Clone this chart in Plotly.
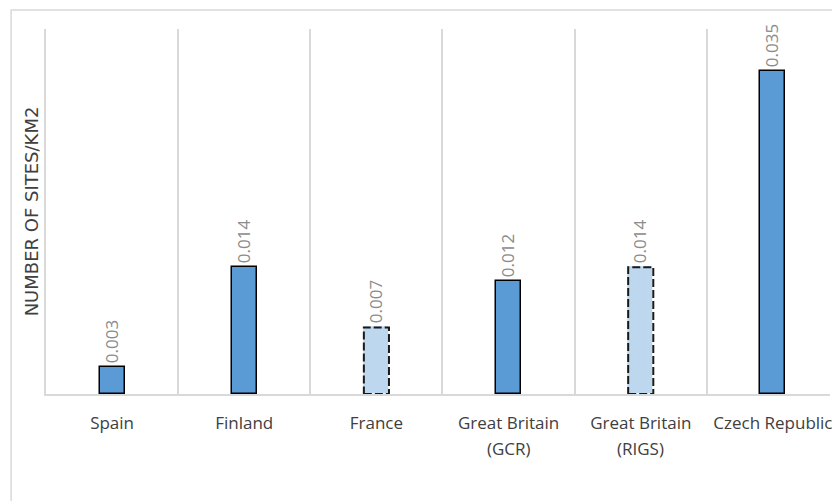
import plotly.graph_objects as go

categories = ["Spain", "Finland", "France", "Great Britain (GCR)", "Great Britain (RIGS)", "Czech Republic"]
label_line1 = ["Spain", "Finland", "France", "Great Britain", "Great Britain", "Czech Republic"]
label_line2 = ["", "", "", "(GCR)", "(RIGS)", ""]
values = [0.0030, 0.0139, 0.0073, 0.0124, 0.0139, 0.0354]
estimated = [False, False, True, False, True, False]

DARK = "#5B9BD5"
LIGHT = "#BDD7EE"
GRID = "#d9d9d9"
BAR_W = 0.19

fig = go.Figure()
fig.add_trace(go.Bar(
    x=categories, y=values,
    width=BAR_W,
    marker=dict(
        color=[LIGHT if e else DARK for e in estimated],
        line=dict(color=["rgba(0,0,0,0)" if e else "#000000" for e in estimated], width=1.5),
    ),
    texttemplate="%{y:.3f} ",
    textposition="outside",
    textangle=-90,
    constraintext="none",
    cliponaxis=False,
    textfont=dict(family="Open Sans", size=17, color="#8c8c8c"),
    hoverinfo="skip",
))

shapes = []
# dashed outlines for the estimated bars
for i, (v, e) in enumerate(zip(values, estimated)):
    if e:
        shapes.append(dict(
            type="rect", xref="x", yref="y",
            x0=i - BAR_W / 2, x1=i + BAR_W / 2, y0=0, y1=v,
            line=dict(color="#1a1a1a", width=2, dash="8px,3px"),
            fillcolor="rgba(0,0,0,0)", layer="above",
        ))
# outer chart border
shapes.append(dict(
    type="rect", xref="paper", yref="paper",
    x0=-0.0445, x1=1.2, y0=-1.0, y1=1.052,
    line=dict(color=GRID, width=1.5), fillcolor="rgba(0,0,0,0)", layer="below",
))

annotations = []
for c, l2 in zip(categories, label_line2):
    if l2:
        annotations.append(dict(
            x=c, xref="x", y=-0.112, yref="paper", yanchor="top",
            text=l2, showarrow=False,
            font=dict(family="Open Sans", size=17, color="#404040"),
        ))

fig.update_layout(
    width=832, height=501,
    margin=dict(l=46, r=0, t=29, b=107),
    paper_bgcolor="white", plot_bgcolor="white",
    showlegend=False,
    bargap=0,
    shapes=shapes,
    annotations=annotations,
    xaxis=dict(
        type="category",
        tickmode="array", tickvals=categories, ticktext=label_line1,
        range=[-0.5, 5.432],
        tickson="boundaries",
        showgrid=True, gridcolor=GRID, gridwidth=1.5,
        showline=True, linecolor=GRID, linewidth=1.5,
        ticks="", ticklabelstandoff=13,
        ticklabeloverflow="allow",
        tickfont=dict(family="Open Sans", size=17, color="#404040"),
    ),
    yaxis=dict(
        range=[0, 0.04],
        showgrid=False, zeroline=False,
        showline=True, linecolor=GRID, linewidth=1.5,
        showticklabels=False, ticks="",
        title=dict(text="NUMBER OF SITES/KM2", standoff=1,
                   font=dict(family="DejaVu Sans", size=18, color="#404040")),
    ),
)

fig.write_html("out.html")
